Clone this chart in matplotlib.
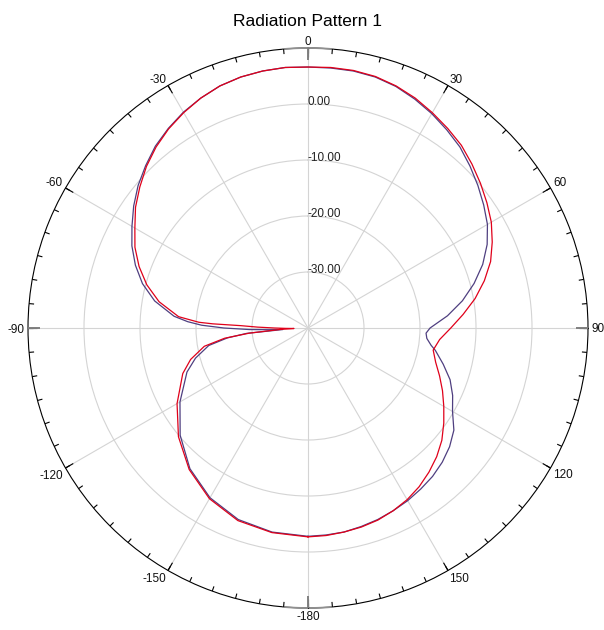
import numpy as np
import matplotlib
matplotlib.use("Agg")
import matplotlib.pyplot as plt
from matplotlib.transforms import ScaledTranslation

plt.rcParams["font.family"] = ["Liberation Sans", "DejaVu Sans"]

# angle (deg, clockwise from top) and gain (dB) for the two traces
theta_red = [-180, -170, -160, -150, -140, -130, -120, -110, -105, -100, -97, -95, -93, -92,
             -91, -90, -89, -88, -87.5, -87, -85, -80, -75, -70, -65, -60, -55, -50, -45, -40,
             -35, -30, -25, -20, -15, -10, -5, 0, 5, 10, 15, 20, 25, 30, 35, 40, 45, 50, 55,
             60, 65, 70, 75, 80, 85, 90, 95, 100, 105, 110, 115, 120, 125, 130, 135, 140,
             145, 150, 155, 160, 165, 170, 175, 180]
db_red = [-2.7, -2.9, -3.4, -4.8, -7.0, -9.8, -13.0, -16.2, -18.3, -21.2, -25.0, -29.5, -35.0, -37.5,
          -36.0, -34.0, -31.0, -28.0, -23.0, -20.5, -16.8, -13.0, -10.2, -7.9, -5.9, -4.3, -2.4, -0.8, 0.8, 2.2,
          3.4, 4.4, 5.3, 6.0, 6.4, 6.6, 6.7, 6.6, 6.7, 6.7, 6.5, 6.0, 5.3, 4.4, 3.5, 2.6, 1.4, 0.2, -1.0,
          -2.2, -3.7, -5.3, -7.4, -9.7, -12.2, -14.5, -16.4, -17.3, -16.4, -15.0, -13.5, -12.0, -10.4, -8.8, -7.5, -6.4,
          -5.4, -4.6, -4.0, -3.5, -3.2, -3.0, -2.8, -2.7]

theta_blue = [-180, -170, -160, -150, -140, -130, -120, -110, -105, -100, -97, -95, -93.5, -92.5,
              -91.5, -90, -88.5, -87, -85, -80, -75, -70, -65, -60, -55, -50, -45, -40, -35, -30,
              -25, -20, -15, -10, -5, 0, 5, 10, 15, 20, 25, 30, 35, 40, 45, 50, 55, 60, 65, 70,
              75, 80, 85, 90, 92.5, 95, 98, 100, 105, 110, 115, 120, 125, 130, 135, 140, 145,
              150, 155, 160, 165, 170, 175, 180]
db_blue = [-2.8, -3.0, -3.6, -5.0, -7.2, -10.2, -13.6, -17.0, -19.2, -22.0, -25.5, -29.0, -35.5, -33.0,
           -29.5, -25.0, -21.0, -18.5, -16.0, -12.2, -9.4, -7.2, -5.3, -3.7, -2.0, -0.4, 1.0, 2.4, 3.5, 4.5,
           5.3, 6.0, 6.4, 6.6, 6.7, 6.6, 6.6, 6.6, 6.4, 5.9, 5.1, 4.2, 3.2, 2.2, 0.9, -0.4, -1.7, -3.0, -4.7, -6.8,
           -9.3, -12.0, -15.0, -18.2, -18.9, -18.7, -17.8, -16.9, -15.0, -13.0, -11.5, -10.2, -8.2, -7.0, -6.1, -5.4, -4.9,
           -4.4, -4.0, -3.6, -3.3, -3.0, -2.9, -2.8]

rings = [-30, -20, -10, 0]
r_min, r_max = -40, 10
tick_angles = [0, 30, 60, 90, 120, 150, 180, 210, 240, 270, 300, 330]
tick_labels = ["0", "30", "60", "90", "120", "150", "-180", "-150", "-120", "-90", "-60", "-30"]
minor_angles = np.arange(0, 360, 5)
cardinal_angles = [0, 90, 180, 270]

fig = plt.figure(figsize=(6.04, 6.30), dpi=100)
ax = fig.add_axes([28 / 604, 22 / 630, 560 / 604, 560 / 630], projection="polar")
ax.set_theta_zero_location("N")
ax.set_theta_direction(-1)
ax.set_ylim(r_min, r_max)

# grid
ax.set_xticks(np.deg2rad(tick_angles))
ax.set_xticklabels([])
ax.set_yticks(rings)
ax.set_yticklabels([])
ax.grid(True, which="major", color="#d4d4d4", linewidth=0.8)
ax.tick_params(axis="both", length=0)
ax.spines["polar"].set_linewidth(0.8)
ax.spines["polar"].set_color("black")

# angle labels just outside the circle
for a, lab in zip(tick_angles, tick_labels):
    s, c = np.sin(np.deg2rad(a)), np.cos(np.deg2rad(a))
    ha = "left" if s > 0.1 else ("right" if s < -0.1 else "center")
    va = "baseline" if c > 0.1 else ("top" if c < -0.1 else "center_baseline")
    off = ScaledTranslation(3 * s / 100, 3 * c / 100, fig.dpi_scale_trans)
    ax.text(np.deg2rad(a), r_max, lab, ha=ha, va=va, fontsize=8.5, color="#111111",
            transform=ax.transData + off, clip_on=False)

# tick marks on the outer circle (pointing inward)
ax.vlines(np.deg2rad(minor_angles), r_max - 0.9, r_max, colors="black", lw=0.8,
          clip_on=False, zorder=5)
ax.vlines(np.deg2rad(tick_angles), r_max - 1.6, r_max, colors="black", lw=0.8,
          clip_on=False, zorder=5)
# gray markers at the cardinal directions
ax.vlines(np.deg2rad(cardinal_angles), r_max - 2.2, r_max, colors="#808080", lw=1.4,
          clip_on=False, zorder=6)
for a in [0, 180]:
    arc = np.deg2rad(np.linspace(a - 5, a + 5, 20))
    ax.plot(arc, np.full(arc.shape, r_max), color="#909090", lw=1.3,
            clip_on=False, zorder=4)

# radial labels
offset = ScaledTranslation(-1 / 100, 2 / 100, fig.dpi_scale_trans)
for r in rings:
    ax.text(0, r, f"{r:.2f}", ha="left", va="center", fontsize=8.5, color="#222222",
            transform=ax.transData + offset)

# traces
ax.plot(np.deg2rad(theta_blue), db_blue, color="#4f3f80", lw=0.9, zorder=7)
ax.plot(np.deg2rad(theta_red), db_red, color="#e0001a", lw=0.9, zorder=8)

fig.text(307.5 / 604, 1 - 21 / 630, "Radiation Pattern 1", ha="center", va="center",
         fontsize=12.5)

fig.savefig("out.png", dpi=100)
